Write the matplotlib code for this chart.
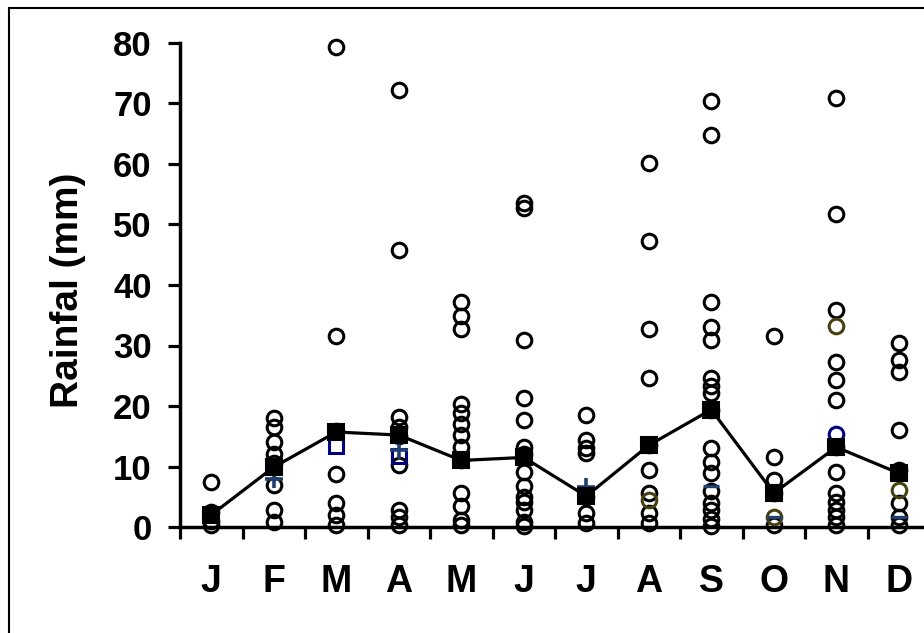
import matplotlib
matplotlib.use("Agg")
import matplotlib.pyplot as plt
from matplotlib.patches import Rectangle

months = ["J", "F", "M", "A", "M", "J", "J", "A", "S", "O", "N", "D"]

jan_obs = [7.4, 2.5, 1.0, 0.3]
feb_obs = [18.0, 16.5, 14.0, 12.0, 10.5, 7.0, 2.8, 0.9]
mar_obs = [79.3, 31.5, 15.8, 8.8, 3.9, 2.0, 0.3]
apr_obs = [72.2, 45.8, 18.2, 16.6, 15.0, 10.2, 2.8, 1.7, 0.3]
may_obs = [37.2, 34.8, 32.8, 20.4, 18.8, 17.1, 15.2, 13.3, 11.0, 5.6, 3.4, 1.2, 0.3]
jun_obs = [53.5, 52.8, 30.9, 21.3, 17.7, 13.3, 12.0, 9.1, 6.7, 5.0, 4.2, 2.8, 0.9, 0.2]
jul_obs = [18.5, 14.4, 13.0, 12.2, 5.0, 2.3, 0.6]
aug_obs = [60.2, 47.3, 32.8, 24.6, 13.6, 9.4, 5.6, 2.3, 0.6]
sep_obs = [70.4, 64.8, 37.2, 33.1, 30.9, 24.6, 23.3, 22.1, 19.3, 13.0, 10.8, 8.9,
           6.0, 3.9, 2.8, 1.4, 0.2]
oct_obs = [31.5, 11.6, 7.8, 5.6, 0.3]
nov_obs = [70.9, 51.7, 35.8, 27.3, 24.3, 21.0, 13.3, 9.1, 5.6, 4.2, 2.8, 1.7, 0.3]
dec_obs = [30.4, 27.6, 25.7, 16.0, 9.4, 3.9, 1.7, 0.3]

monthly_mean = [2.0, 9.9, 15.7, 15.2, 11.0, 11.5, 5.1, 13.5, 19.4, 5.6, 13.2, 8.9]

olive_months = [8, 10, 11, 12]
olive_vals = [4.5, 1.7, 33.3, 6.1]
plus_months = [2, 4, 7]
plus_vals = [7.9, 12.7, 6.6]
navysq_months = [3, 4]
navysq_vals = [13.4, 11.8]
navyc_months = [11]
navyc_vals = [15.3]
dash_months = [9, 10, 12]
dash_vals = [6.7, 1.7, 1.7]

obs_all = [jan_obs, feb_obs, mar_obs, apr_obs, may_obs, jun_obs,
           jul_obs, aug_obs, sep_obs, oct_obs, nov_obs, dec_obs]

W, H = 924, 633
fig = plt.figure(figsize=(W / 100, H / 100), dpi=100)
FONT = "Liberation Sans"

ax_left, ax_right = 180, 930
ax_bottom, ax_top = 527, 43
ax = fig.add_axes([ax_left / W, 1 - ax_bottom / H,
                   (ax_right - ax_left) / W, (ax_bottom - ax_top) / H])

# figure border
fig.patches.append(Rectangle((9 / W, -0.1), 1.2, 1.1 - 8 / H + 0.0,
                             transform=fig.transFigure, fill=False,
                             edgecolor="black", linewidth=1.5, zorder=0))

mk = dict(linestyle="none", clip_on=False)
for i, vals in enumerate(obs_all):
    ax.plot([i + 1] * len(vals), vals, marker="o", markersize=10.5,
            markerfacecolor="none", markeredgecolor="black",
            markeredgewidth=2.2, zorder=3, **mk)

ax.plot(olive_months, olive_vals, marker="o", markersize=10.5,
        markerfacecolor="none", markeredgecolor="#45420f",
        markeredgewidth=2.2, zorder=4, **mk)
ax.plot(navyc_months, navyc_vals, marker="o", markersize=10.5,
        markerfacecolor="none", markeredgecolor="#000080",
        markeredgewidth=2.2, zorder=4, **mk)
ax.plot(navysq_months, navysq_vals, marker="s", markersize=10,
        markerfacecolor="none", markeredgecolor="#000080",
        markeredgewidth=2.2, zorder=4, **mk)
ax.plot(plus_months, plus_vals, marker="+", markersize=13,
        markeredgecolor="#1f3f6e", markeredgewidth=2.6, zorder=4, **mk)
ax.plot(dash_months, dash_vals, marker="_", markersize=12,
        markeredgecolor="#1f3f6e", markeredgewidth=2.4, zorder=4, **mk)

x = list(range(1, len(months) + 1))
ax.plot(x, monthly_mean, color="black", linewidth=2.3, marker="s",
        markersize=11.5, markerfacecolor="black", markeredgecolor="black",
        markeredgewidth=1.5, zorder=5, clip_on=False)

ax.set_xlim(0.5, 12.5)
ax.set_ylim(0, 80)
ax.set_yticks(range(0, 81, 10))
ax.set_yticklabels([str(v) for v in range(0, 81, 10)],
                   fontfamily=FONT, fontweight="bold", fontsize=25)

ax.set_xticks([k + 0.5 for k in range(0, 12)])
ax.set_xticklabels([])
ax.set_xticks(x, minor=True)
ax.set_xticklabels(months, minor=True, fontfamily=FONT, fontweight="bold",
                   fontsize=27)

for s in ["top", "right"]:
    ax.spines[s].set_visible(False)
for s in ["left", "bottom"]:
    ax.spines[s].set_linewidth(2.5)

ax.tick_params(axis="y", which="major", direction="out", length=8.5,
               width=2.3, pad=12)
ax.tick_params(axis="x", which="major", direction="out", length=8.5,
               width=2.3)
ax.tick_params(axis="x", which="minor", length=0, pad=27)

fig.text(68 / W, 1 - 290 / H, "Rainfal (mm)", rotation=90, ha="center",
         va="center", fontfamily=FONT, fontweight="bold", fontsize=28)

fig.savefig("out.png", dpi=100)
